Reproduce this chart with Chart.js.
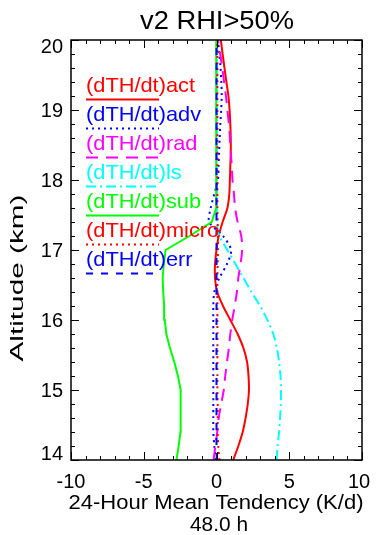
<!DOCTYPE html>
<html>
<head>
<meta charset="utf-8">
<script src="https://cdn.jsdelivr.net/npm/chart.js@4/dist/chart.umd.min.js"></script>
<style>
  html, body { margin: 0; padding: 0; background: #fff; }
  canvas { display: block; }
</style>
</head>
<body>
<canvas id="tendChart" width="378" height="535"></canvas>
<script>
/* ── Data (altitude in km, tendency in K/d) ── */
const ALT   = [14.0, 14.2, 14.4, 14.6, 14.8, 15.0, 15.2, 15.4, 15.6, 15.8,
               16.0, 16.2, 16.4, 16.6, 16.8, 17.0, 17.2, 17.4, 17.6, 17.8,
               18.0, 18.2, 18.4, 18.6, 18.8, 19.0, 19.2, 19.4, 19.6, 19.8, 20.0];
const ACT   = [1.15, 1.5, 1.8, 2.0, 2.15, 2.23, 2.2, 2.1, 1.85, 1.45,
               0.95, 0.45, 0.05, -0.1, -0.1, 0.0, 0.15, 0.42, 0.75, 0.88,
               0.92, 0.95, 0.98, 0.98, 0.95, 0.9, 0.82, 0.68, 0.55, 0.42, 0.3];
const ADV   = [-0.05, -0.15, -0.22, -0.22, -0.22, -0.22, -0.22, -0.22, -0.22, -0.22,
               -0.22, -0.22, -0.15, 0.2, 0.72, 1.0, 0.45, -0.5, -0.4, -0.15,
               0.1, 0.14, 0.18, 0.22, 0.26, 0.32, 0.36, 0.33, 0.28, 0.2, 0.1];
const RAD   = [-0.2, -0.08, 0.05, 0.15, 0.32, 0.5, 0.6, 0.72, 0.85, 0.95,
               1.08, 1.25, 1.4, 1.5, 1.65, 1.76, 1.7, 1.45, 1.28, 1.2,
               1.1, 1.05, 0.98, 0.92, 0.85, 0.75, 0.65, 0.52, 0.4, 0.25, 0.1];
const LS    = [4.13, 4.2, 4.3, 4.37, 4.42, 4.43, 4.4, 4.3, 4.15, 3.9,
               3.5, 3.0, 2.4, 1.85, 1.3, 0.75, 0.2, 0.02, 0.02, 0.02,
               0.02, 0.02, 0.02, 0.02, 0.02, 0.02, 0.02, 0.02, 0.02, 0.02, 0.02];
const SUB   = [-2.75, -2.6, -2.48, -2.44, -2.45, -2.5, -2.65, -2.9, -3.2, -3.45,
               -3.55, -3.6, -3.66, -3.7, -3.62, -3.5, -1.86, -0.33, -0.02, -0.02,
               -0.02, -0.02, -0.02, -0.02, -0.02, -0.02, -0.02, -0.02, -0.02, -0.02, -0.02];
const MICRO = [0.2, 0.12, 0.08, 0.08, 0.08, 0.06, 0.06, 0.06, 0.06, 0.06,
               0.06, 0.06, 0.06, 0.06, 0.08, 0.1, 0.1, 0.08, 0.06, 0.06,
               0.06, 0.06, 0.06, 0.06, 0.06, 0.06, 0.06, 0.06, 0.06, 0.06, 0.06];
const ERR   = [0.02, 0.0, 0.0, 0.0, 0.0, 0.0, 0.0, 0.0, 0.0, 0.0,
               0.0, 0.0, 0.0, 0.0, 0.0, 0.0, 0.0, 0.0, 0.0, 0.0,
               0.0, 0.0, 0.0, 0.0, 0.0, 0.0, 0.0, 0.0, 0.0, 0.0, 0.0];

const NAMES   = ['(dTH/dt)act', '(dTH/dt)adv', '(dTH/dt)rad', '(dTH/dt)ls',
                 '(dTH/dt)sub', '(dTH/dt)micro', '(dTH/dt)err'];
const VALUES  = [ACT, ADV, RAD, LS, SUB, MICRO, ERR];
const X_TICKS = [-10, -5, 0, 5, 10];
const Y_TICKS = [14, 15, 16, 17, 18, 19, 20];

const TITLE   = 'v2 RHI>50%';
const X_TITLE = '24-Hour Mean Tendency (K/d)';
const X_SUB   = '48.0 h';
const Y_TITLE = 'Altitude (km)';

/* ── Styles ── */
const COLORS = ['#ff0000', '#0000ff', '#ff00ff', '#00ffff', '#00ff00', '#ff0000', '#0000ff'];
const DASHES = [[], [2, 4], [12, 8], [10, 4, 2, 4], [], [2, 4], [7, 8]];
const FONT   = '"Liberation Sans", Arial, sans-serif';

/* draw text squeezed/stretched horizontally to a given width */
function fitText(ctx, text, x, y, size, width, align) {
  ctx.save();
  ctx.font = `${size}px ${FONT}`;
  const w = ctx.measureText(text).width;
  ctx.translate(x, y);
  ctx.scale(width ? width / w : 1, 1);
  ctx.textAlign = align || 'center';
  ctx.fillText(text, 0, 0);
  ctx.restore();
}

/* ── IDL-style frame, ticks, labels, title and legend ── */
const idlFrame = {
  id: 'idlFrame',
  afterDraw(chart) {
    const { ctx, chartArea: a, scales: { x, y } } = chart;
    ctx.save();
    ctx.strokeStyle = '#000';
    ctx.fillStyle = '#000';
    ctx.lineWidth = 1.5;
    ctx.setLineDash([]);
    ctx.strokeRect(a.left, a.top, a.right - a.left, a.bottom - a.top);

    ctx.lineWidth = 1;
    ctx.beginPath();
    for (let v = -10; v <= 10; v++) {
      const px = Math.round(x.getPixelForValue(v)) + 0.5;
      const len = v % 5 === 0 ? 8 : 4;
      ctx.moveTo(px, a.bottom); ctx.lineTo(px, a.bottom - len);
      ctx.moveTo(px, a.top);    ctx.lineTo(px, a.top + len);
    }
    for (let i = 0; i <= 30; i++) {
      const py = Math.round(y.getPixelForValue(14 + i * 0.2)) + 0.5;
      const len = i % 5 === 0 ? 8 : 4;
      ctx.moveTo(a.left, py);  ctx.lineTo(a.left + len, py);
      ctx.moveTo(a.right, py); ctx.lineTo(a.right - len, py);
    }
    ctx.stroke();

    // tick labels
    ctx.font = `20px ${FONT}`;
    ctx.textBaseline = 'alphabetic';
    ctx.textAlign = 'center';
    X_TICKS.forEach(v => {
      const px = Math.min(Math.max(x.getPixelForValue(v), a.left), a.right - 3);
      ctx.fillText(String(v), px, 488);
    });
    ctx.textAlign = 'right';
    Y_TICKS.forEach(v => {
      const py = Math.min(Math.max(y.getPixelForValue(v) + 7, a.top + 13), a.bottom);
      ctx.fillText(String(v), a.left - 8, py);
    });

    // titles
    fitText(ctx, TITLE, 217, 29, 25, 154);
    fitText(ctx, X_TITLE, 216, 509, 20, 295);
    fitText(ctx, X_SUB, 219, 531, 20, 58);
    ctx.save();
    ctx.translate(23, 278);
    ctx.rotate(-Math.PI / 2);
    fitText(ctx, Y_TITLE, 0, 0, 19, 167);
    ctx.restore();

    // legend
    ctx.font = `21px ${FONT}`;
    const sx = 109 / ctx.measureText(NAMES[0]).width;
    NAMES.forEach((name, i) => {
      const base = 91.5 + i * 29;
      ctx.fillStyle = COLORS[i];
      ctx.save();
      ctx.translate(86, base);
      ctx.scale(sx, 1);
      ctx.textAlign = 'left';
      ctx.fillText(name, 0, 0);
      ctx.restore();
      ctx.strokeStyle = COLORS[i];
      ctx.lineWidth = 2;
      ctx.setLineDash(DASHES[i]);
      ctx.beginPath();
      ctx.moveTo(86, base + 8);
      ctx.lineTo(159, base + 8);
      ctx.stroke();
    });
    ctx.restore();
  },
};

/* ── Chart ── */
const datasets = NAMES.map((name, i) => ({
  label: name,
  data: ALT.map((alt, k) => ({ x: VALUES[i][k], y: alt })),
  showLine: true,
  borderColor: COLORS[i],
  borderWidth: 2,
  borderDash: DASHES[i],
  pointRadius: 0,
  tension: name.endsWith('sub') ? 0 : 0.3,
  order: NAMES.length - i,
}));

new Chart(document.getElementById('tendChart'), {
  type: 'scatter',
  data: { datasets },
  options: {
    responsive: false,
    animation: false,
    layout: { padding: { left: 71, right: 16, top: 40, bottom: 75 } },
    plugins: { legend: { display: false }, title: { display: false }, tooltip: { enabled: false } },
    scales: {
      x: { display: false, min: -10, max: 10 },
      y: { display: false, min: 14, max: 20 },
    },
  },
  plugins: [idlFrame],
});
</script>
</body>
</html>
